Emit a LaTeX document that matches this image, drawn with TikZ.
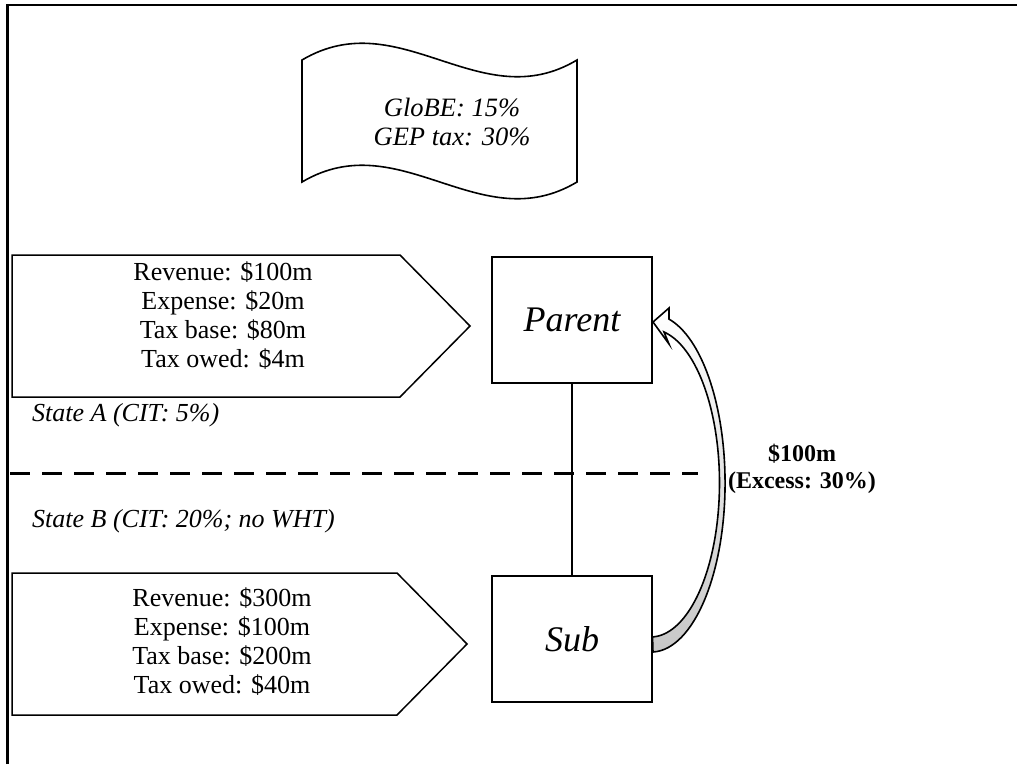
\documentclass[tikz,border=0pt]{standalone}
\usepackage{fontspec}
\setmainfont{Liberation Serif}
\usetikzlibrary{calc}
\begin{document}
\begin{tikzpicture}[x=1pt,y=-1pt,
  frameline/.style={line width=2.5pt},
  infobox/.style={draw, line width=1.5pt, line join=miter},
  infotext/.style={align=center, inner sep=0pt, font=\fontsize{26}{29}\selectfont},
  entity/.style={draw, line width=2pt, minimum width=160pt, minimum height=126pt, inner sep=0pt, font=\fontsize{36}{40}\selectfont\itshape},
  statelabel/.style={anchor=west, inner sep=0pt, font=\fontsize{26}{30}\selectfont\itshape},
  flowlabel/.style={align=center, inner sep=0pt, font=\fontsize{24}{27}\selectfont\bfseries},
  border/.style={line width=3pt, dash pattern=on 20pt off 12pt},
  blockarrow/.style={line width=1.6pt, line join=miter, top color=white, middle color=white, bottom color=black!22}
]
\useasboundingbox (0,0) rectangle (1017,764);
% frame
\draw[frameline] (7.5,764) -- (7.5,5) -- (1017,5);

% wave (punched tape) box
\draw[line width=1.6pt] (302,60) .. controls (400,2) and (480,118) .. (577,60)
  -- (577,182) .. controls (480,240) and (400,124) .. (302,182) -- cycle;
\node[infotext, font=\fontsize{26.5}{29}\selectfont\itshape] (rates) at (452,122) {GloBE: 15\%\\GEP tax: 30\%};

% info pentagons
\draw[infobox] (12,255) -- (400,255) -- (470,326) -- (400,397) -- (12,397) -- cycle;
\node[infotext] (pinfo) at (223,316) {Revenue: \$100m\\Expense: \$20m\\Tax base: \$80m\\Tax owed: \$4m};
\draw[infobox] (12,573) -- (397,573) -- (467,644) -- (397,715) -- (12,715) -- cycle;
\node[infotext] (sinfo) at (222,642) {Revenue: \$300m\\Expense: \$100m\\Tax base: \$200m\\Tax owed: \$40m};

% entities
\node[entity] (parent) at (572,320) {Parent};
\node[entity] (sub) at (572,639) {Sub};
\draw[line width=1.5pt] (parent.south) -- (sub.north);

% state border
\coordinate (bl) at (10,473);
\coordinate (br) at (698,473);
\draw[border] (bl) -- (br);
\node[statelabel] (stateA) at (32,415) {State A (CIT: 5\%)};
\node[statelabel] (stateB) at (32,521) {State B (CIT: 20\%; no WHT)};

% curved block arrow from Sub to Parent
\coordinate (arrstart) at ($(sub.east)+(0,13)$);
\coordinate (arrtip) at ($(parent.east)+(0,2)$);
\draw[blockarrow] (arrstart) arc[start angle=88.5, end angle=-76, x radius=74, y radius=169]
  -- (669,308) -- (arrtip) -- (669,344) -- (664,332)
  arc[start angle=-78.7, end angle=88.3, x radius=69, y radius=154]
  -- cycle;
\node[flowlabel] (flow) at (802,469) {\$100m\\(Excess: 30\%)};
\end{tikzpicture}
\end{document}
